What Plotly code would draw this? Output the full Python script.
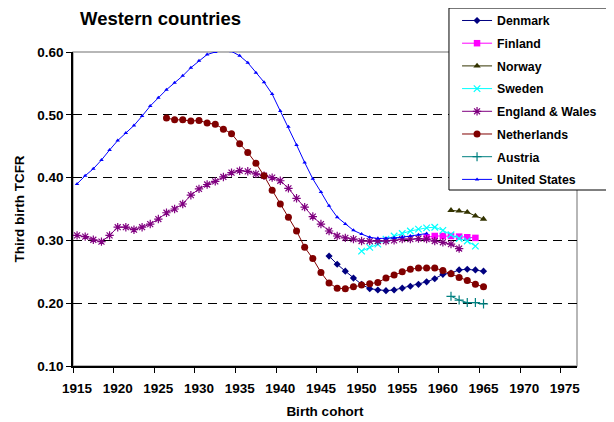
import plotly.graph_objects as go

FONT = "Liberation Sans, Arial, sans-serif"

# --- data ------------------------------------------------------------------
us_years = list(range(1915, 1959))
us_tcfr = [0.390, 0.403, 0.414, 0.428, 0.444, 0.459, 0.471, 0.483, 0.498, 0.514,
           0.527, 0.540, 0.551, 0.562, 0.575, 0.586, 0.596, 0.600, 0.602, 0.601,
           0.594, 0.583, 0.567, 0.552, 0.533, 0.506, 0.481, 0.452, 0.424, 0.398,
           0.377, 0.355, 0.337, 0.326, 0.316, 0.310, 0.305, 0.303, 0.303, 0.304,
           0.305, 0.307, 0.309, 0.311]

ew_years = list(range(1915, 1963))
ew_tcfr = [0.308, 0.306, 0.301, 0.298, 0.308, 0.321, 0.321, 0.317, 0.321, 0.326,
           0.334, 0.344, 0.350, 0.358, 0.372, 0.382, 0.389, 0.394, 0.401, 0.408,
           0.411, 0.410, 0.406, 0.403, 0.400, 0.395, 0.383, 0.367, 0.353, 0.338,
           0.326, 0.315, 0.307, 0.304, 0.302, 0.299, 0.299, 0.299, 0.299, 0.300,
           0.302, 0.302, 0.303, 0.302, 0.299, 0.297, 0.294, 0.287]

nl_years = list(range(1926, 1966))
nl_tcfr = [0.495, 0.492, 0.492, 0.490, 0.491, 0.487, 0.485, 0.477, 0.470, 0.454,
           0.440, 0.423, 0.403, 0.380, 0.358, 0.337, 0.315, 0.289, 0.271, 0.249,
           0.232, 0.224, 0.223, 0.226, 0.229, 0.231, 0.233, 0.240, 0.245, 0.250,
           0.254, 0.256, 0.256, 0.256, 0.252, 0.247, 0.241, 0.236, 0.230, 0.226]

dk_years = list(range(1946, 1966))
dk_tcfr = [0.275, 0.262, 0.251, 0.240, 0.230, 0.223, 0.221, 0.220, 0.221, 0.224,
           0.227, 0.230, 0.234, 0.239, 0.246, 0.248, 0.253, 0.254, 0.253, 0.251]

se_years = list(range(1950, 1965))
se_tcfr = [0.283, 0.289, 0.294, 0.302, 0.307, 0.311, 0.315, 0.318, 0.320, 0.321,
           0.316, 0.309, 0.303, 0.299, 0.291]

fi_years = list(range(1958, 1965))
fi_tcfr = [0.305, 0.307, 0.307, 0.307, 0.306, 0.305, 0.304]

no_years = list(range(1961, 1966))
no_tcfr = [0.348, 0.347, 0.345, 0.339, 0.334]

at_years = list(range(1961, 1966))
at_tcfr = [0.211, 0.205, 0.201, 0.201, 0.199]

tick_years = list(range(1915, 1976, 5))
y_ticks = [0.10, 0.20, 0.30, 0.40, 0.50, 0.60]

# name, years, values, colour, marker symbol, marker size
SERIES = [
    ("Denmark", dk_years, dk_tcfr, "#000080", "diamond", 5.5),
    ("Finland", fi_years, fi_tcfr, "#ff00ff", "square", 6.5),
    ("Norway", no_years, no_tcfr, "#333300", "triangle-up", 6.5),
    ("Sweden", se_years, se_tcfr, "#00ffff", "x-thin-open", 6.5),
    ("England & Wales", ew_years, ew_tcfr, "#800080", "asterisk-open", 7),
    ("Netherlands", nl_years, nl_tcfr, "#800000", "circle", 7),
    ("Austria", at_years, at_tcfr, "#008080", "cross-thin-open", 6.5),
    ("United States", us_years, us_tcfr, "#0000ff", "triangle-up", 4),
]

fig = go.Figure()
for name, xs, ys, color, symbol, size in SERIES:
    open_sym = symbol.endswith("-open")
    fig.add_trace(
        go.Scatter(
            x=xs, y=ys, name=name, legendgroup=name, mode="lines+markers",
            line=dict(color=color, width=1),
            marker=dict(symbol=symbol, size=size, color=color,
                        line=dict(color=color, width=1.2 if open_sym else 0)),
        )
    )

# legend frame (white box that hides the gridlines behind it)
fig.add_shape(type="rect", xref="paper", yref="paper",
              x0=0.746, x1=1.0714, y0=0.5605, y1=1.140,
              line=dict(color="black", width=1), fillcolor="white", layer="above")
# grey plot-area border
fig.add_shape(type="rect", xref="x domain", yref="y domain",
              x0=0, x1=1, y0=0, y1=1,
              line=dict(color="#a0a0a0", width=1.5), layer="below")

# the page body adds an 8px offset, so the figure is 8px smaller than the window
fig.update_layout(
    width=606, height=414,
    margin=dict(l=65, r=37, t=44, b=56, autoexpand=False),
    paper_bgcolor="white", plot_bgcolor="white",
    font=dict(family=FONT, size=13, color="black"),
    title=dict(text="<b>Western countries</b>", x=72 / 606, xanchor="left",
               y=1 - 11 / 414, yanchor="middle", font=dict(size=18.5)),
    xaxis=dict(
        range=[1914.5, 1976.5], tickvals=tick_years,
        ticktext=[str(y) for y in tick_years], ticks="",
        tickfont=dict(size=13.5, weight="bold"), ticklabelstandoff=9,
        minor=dict(tick0=1914.5, dtick=5, ticks="outside", ticklen=5,
                   tickcolor="black", showgrid=False),
        showline=True, linecolor="black", linewidth=1.5,
        showgrid=False, zeroline=False, automargin=False,
        title=dict(text="<b>Birth cohort</b>", font=dict(size=13.5), standoff=12),
    ),
    yaxis=dict(
        range=[0.10, 0.60], tickvals=y_ticks, tickformat=".2f",
        ticks="outside", ticklen=5, tickcolor="black",
        tickfont=dict(size=13.5, weight="bold"),
        showline=True, linecolor="black", linewidth=1.5,
        showgrid=True, gridcolor="black", gridwidth=1, griddash="9px,6px",
        zeroline=False, automargin=False,
        title=dict(text="<b>Third birth TCFR</b>", font=dict(size=13.5), standoff=10),
    ),
    legend=dict(
        x=0.762, y=1.1465, xanchor="left", yanchor="top",
        bgcolor="rgba(0,0,0,0)", borderwidth=0,
        font=dict(size=12.3, weight="bold"), tracegroupgap=3.7,
        itemclick=False,
    ),
)

fig.write_html("out.html")
